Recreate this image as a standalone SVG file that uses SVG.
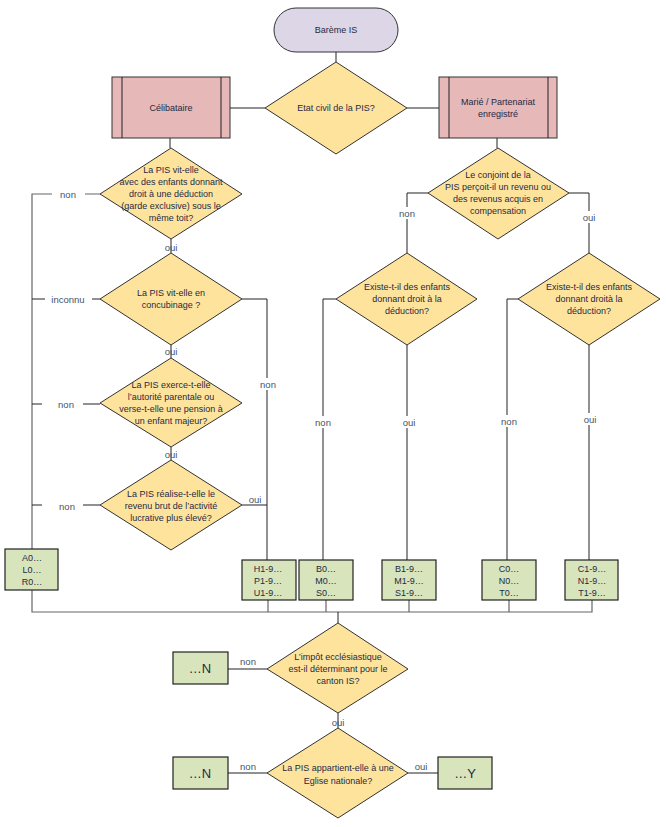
<svg xmlns="http://www.w3.org/2000/svg" width="666" height="827" viewBox="0 0 666 827">
<style>
text{font-family:"Liberation Sans","Noto Sans",sans-serif;font-size:9px;fill:#1f2a44;text-anchor:middle;dominant-baseline:central}
.lbl{fill:#44546a;font-size:9.5px}
.dia{fill:#fee39d;stroke:#333;stroke-width:1}
.res{fill:#d8e4bc;stroke:#222;stroke-width:1.2}
.sub{fill:#e6b8b7;stroke:#333;stroke-width:1}
.ln{fill:none;stroke:#222;stroke-width:1}
.lg{fill:none;stroke:#666;stroke-width:1.2}
.big{font-size:13px}
</style>
<rect width="666" height="827" fill="#fff"/>
<g id="connectors">
<path class="ln" d="M336 52V62"/>
<path class="ln" d="M230 108H265M407 108H439"/>
<path class="ln" d="M170 138V148M497 138V148"/>
<path class="lg" d="M100 194H85M52 194H32V549"/>
<path class="ln" d="M100 299H92M45 299H32"/>
<path class="ln" d="M100 404H83M42 404H32"/>
<path class="ln" d="M100 505H83M42 505H32"/>
<path class="ln" d="M171 239V253M171 345V358M171 447V460"/>
<path class="ln" d="M242 299H267V560M242 505H267"/>
<path class="ln" d="M428 193H407V253M569 193H589V253"/>
<path class="ln" d="M336 299H323V560M407 345V560"/>
<path class="ln" d="M518 299H507V560M589 345V560"/>
<path class="lg" d="M32 590V612H592V600M268 600V612M326 600V612M409 600V612M509 600V612"/>
<path class="ln" d="M338 612V623"/>
<path class="ln" d="M228 669H267M338 713V728M228 773H267M408 773H438"/>
</g>
<g id="start">
<rect x="274" y="8" width="124" height="44" rx="22" fill="#dcd6e6" stroke="#333"/>
<text x="336" y="30">Barème IS</text>
</g>
<g id="etat">
<polygon class="dia" points="336,62 407,108 336,154 265,108"/>
<text x="336" y="108" font-size="8px">Etat civil de la PIS?</text>
</g>
<g id="celib">
<rect class="sub" x="112" y="77" width="118" height="61"/>
<path class="ln" d="M122 77V138M221 77V138"/>
<text x="171" y="108">Célibataire</text>
</g>
<g id="marie">
<rect class="sub" x="439" y="77" width="118" height="61"/>
<path class="ln" d="M449 77V138M548 77V138"/>
<text x="498" y="102">Marié / Partenariat</text>
<text x="498" y="114">enregistré</text>
</g>
<g id="q1">
<polygon class="dia" points="171,148 242,194 171,239 100,194"/>
<text x="171" y="170">La PIS vit-elle</text>
<text x="171" y="182">avec des enfants donnant</text>
<text x="171" y="194">droit à une déduction</text>
<text x="171" y="206">(garde exclusive) sous le</text>
<text x="171" y="218">même toit?</text>
</g>
<g id="q2">
<polygon class="dia" points="171,253 242,299 171,345 100,299"/>
<text x="171" y="293">La PIS vit-elle en</text>
<text x="171" y="305">concubinage ?</text>
</g>
<g id="q3">
<polygon class="dia" points="171,358 242,403 171,447 100,403"/>
<text x="171" y="385">La PIS exerce-t-elle</text>
<text x="171" y="397">l’autorité parentale ou</text>
<text x="171" y="409">verse-t-elle une pension à</text>
<text x="171" y="421">un enfant majeur?</text>
</g>
<g id="q4">
<polygon class="dia" points="171,460 242,505 171,550 100,505"/>
<text x="171" y="494">La PIS réalise-t-elle le</text>
<text x="171" y="506">revenu brut de l’activité</text>
<text x="171" y="518">lucrative plus élevé?</text>
</g>
<g id="r1">
<polygon class="dia" points="498,148 569,193 498,239 428,193"/>
<text x="498" y="175">Le conjoint de la</text>
<text x="498" y="187">PIS perçoit-il un revenu ou</text>
<text x="498" y="199">des revenus acquis en</text>
<text x="498" y="211">compensation</text>
</g>
<g id="r2">
<polygon class="dia" points="407,253 477,299 407,345 336,299"/>
<text x="407" y="287">Existe-t-il des enfants</text>
<text x="407" y="299">donnant droit à la</text>
<text x="407" y="311">déduction?</text>
</g>
<g id="r3">
<polygon class="dia" points="589,253 660,299 589,345 518,299"/>
<text x="589" y="287">Existe-t-il des enfants</text>
<text x="589" y="299">donnant droità la</text>
<text x="589" y="311">déduction?</text>
</g>
<g id="labels">
<rect x="52" y="188" width="33" height="12" fill="#fff"/>
<text class="lbl" x="68" y="194">non</text>
<text class="lbl" x="171" y="247">oui</text>
<text class="lbl" x="68" y="299">inconnu</text>
<text class="lbl" x="171" y="351">oui</text>
<text class="lbl" x="66" y="404">non</text>
<text class="lbl" x="171" y="454">oui</text>
<text class="lbl" x="67" y="506">non</text>
<text class="lbl" x="255" y="499">oui</text>
<rect x="258" y="378" width="18" height="12" fill="#fff"/>
<text class="lbl" x="268" y="384">non</text>
<rect x="398" y="207" width="18" height="12" fill="#fff"/>
<text class="lbl" x="407" y="213">non</text>
<rect x="580" y="211" width="18" height="12" fill="#fff"/>
<text class="lbl" x="589" y="217">oui</text>
<rect x="314" y="416" width="18" height="12" fill="#fff"/>
<text class="lbl" x="323" y="422">non</text>
<rect x="400" y="416" width="18" height="12" fill="#fff"/>
<text class="lbl" x="409" y="422">oui</text>
<rect x="498" y="415" width="20" height="12" fill="#fff"/>
<text class="lbl" x="509" y="421">non</text>
<rect x="580" y="413" width="18" height="12" fill="#fff"/>
<text class="lbl" x="590" y="419">oui</text>
<text class="lbl" x="248" y="661">non</text>
<text class="lbl" x="338" y="722">oui</text>
<text class="lbl" x="248" y="766">non</text>
<text class="lbl" x="421" y="766">oui</text>
</g>
<g id="resA">
<rect class="res" x="5" y="549" width="53" height="41"/>
<text x="32" y="558">A0…</text><text x="32" y="570">L0…</text><text x="32" y="582">R0…</text>
</g>
<g id="resH">
<rect class="res" x="242" y="560" width="54" height="40"/>
<text x="268" y="569">H1-9…</text><text x="268" y="581">P1-9…</text><text x="268" y="593">U1-9…</text>
</g>
<g id="resB0">
<rect class="res" x="299" y="560" width="54" height="40"/>
<text x="326" y="569">B0…</text><text x="326" y="581">M0…</text><text x="326" y="593">S0…</text>
</g>
<g id="resB1">
<rect class="res" x="382" y="560" width="54" height="40"/>
<text x="409" y="569">B1-9…</text><text x="409" y="581">M1-9…</text><text x="409" y="593">S1-9…</text>
</g>
<g id="resC0">
<rect class="res" x="482" y="560" width="54" height="40"/>
<text x="509" y="569">C0…</text><text x="509" y="581">N0…</text><text x="509" y="593">T0…</text>
</g>
<g id="resC1">
<rect class="res" x="565" y="560" width="53" height="40"/>
<text x="592" y="569">C1-9…</text><text x="592" y="581">N1-9…</text><text x="592" y="593">T1-9…</text>
</g>
<g id="qEgl">
<polygon class="dia" points="338,623 408,669 338,713 267,669"/>
<text x="338" y="657">L’impôt ecclésiastique</text>
<text x="338" y="669">est-il déterminant pour le</text>
<text x="338" y="681">canton IS?</text>
</g>
<g id="qNat">
<polygon class="dia" points="338,728 408,773 338,818 267,773"/>
<text x="338" y="768">La PIS appartient-elle à une</text>
<text x="338" y="781">Eglise nationale?</text>
</g>
<g id="resN1">
<rect class="res" x="173" y="652" width="55" height="32"/>
<text class="big" x="200" y="668">…N</text>
</g>
<g id="resN2">
<rect class="res" x="173" y="757" width="55" height="32"/>
<text class="big" x="200" y="773">…N</text>
</g>
<g id="resY">
<rect class="res" x="438" y="757" width="54" height="32"/>
<text class="big" x="465" y="773">…Y</text>
</g>
</svg>
